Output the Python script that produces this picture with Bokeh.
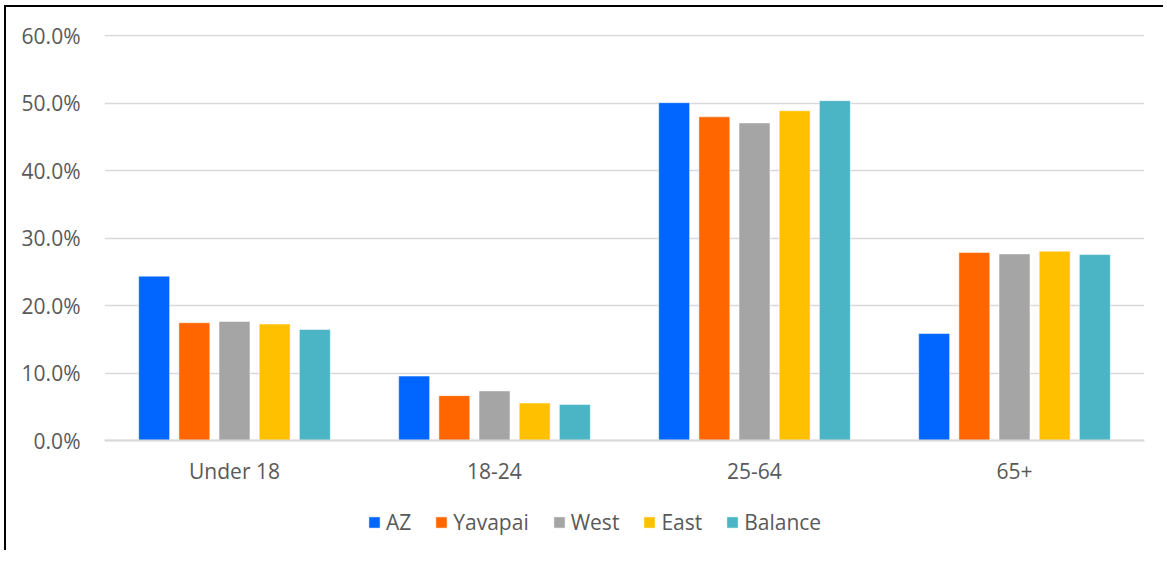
from bokeh.plotting import figure
from bokeh.models import (ColumnDataSource, FactorRange, NumeralTickFormatter,
                          FixedTicker, Legend, LegendItem, Range1d)
from bokeh.transform import dodge
from bokeh.embed import file_html
from bokeh.resources import INLINE

categories = ["Under 18", "18-24", "25-64", "65+"]
series = ["AZ", "Yavapai", "West", "East", "Balance"]
az = [0.244, 0.096, 0.501, 0.159]
yavapai = [0.175, 0.067, 0.480, 0.279]
west = [0.177, 0.074, 0.471, 0.277]
east = [0.173, 0.056, 0.489, 0.281]
balance = [0.165, 0.054, 0.504, 0.276]
colors = ["#0066FF", "#FF6600", "#A5A5A5", "#FFC000", "#4BB4C5"]
y_ticks = [0.0, 0.1, 0.2, 0.3, 0.4, 0.5, 0.6]

source = ColumnDataSource(data=dict(cat=categories, AZ=az, Yavapai=yavapai,
                                    West=west, East=east, Balance=balance))

FONT = "Open Sans"
FS = "21px"
LABEL_COLOR = "#595959"
GRID = "#D9D9D9"

p = figure(x_range=FactorRange(*categories), y_range=Range1d(-0.1624, 0.602),
           width=1159, height=545, output_backend="svg", toolbar_location=None,
           min_border_left=98, min_border_top=27, min_border_right=21,
           min_border_bottom=2)
p.styles = {"border-left": "2px solid black", "border-top": "2px solid black",
            "position": "relative", "left": "4px", "top": "5px"}
p.outline_line_color = None
p.background_fill_color = "white"
p.border_fill_color = "white"

offsets = [-0.309, -0.1545, 0.0, 0.1545, 0.309]
renderers = []
for name, off, col in zip(series, offsets, colors):
    r = p.vbar(x=dodge("cat", off, range=p.x_range), top=name, bottom=0, width=0.119,
               source=source, fill_color=col, line_color="white", line_width=0.5)
    renderers.append(r)

p.yaxis.ticker = FixedTicker(ticks=y_ticks)
p.yaxis.formatter = NumeralTickFormatter(format="0.0%")
p.yaxis.axis_line_color = None
p.yaxis.major_tick_line_color = None
p.yaxis.minor_tick_line_color = None
p.yaxis.major_label_text_font = FONT
p.yaxis.major_label_text_font_size = FS
p.yaxis.major_label_text_color = LABEL_COLOR
p.yaxis.major_label_standoff = 18

p.xaxis.fixed_location = 0
p.xaxis.axis_line_color = GRID
p.xaxis.axis_line_width = 2
p.xaxis.major_tick_line_color = None
p.xaxis.minor_tick_line_color = None
p.xaxis.major_label_text_font = FONT
p.xaxis.major_label_text_font_size = FS
p.xaxis.major_label_text_color = LABEL_COLOR
p.xaxis.major_label_standoff = 10

p.xgrid.grid_line_color = None
p.ygrid.ticker = FixedTicker(ticks=y_ticks)
p.ygrid.grid_line_color = GRID
p.ygrid.grid_line_width = 1.5

legend = Legend(items=[LegendItem(label=n, renderers=[r]) for n, r in zip(series, renderers)],
                orientation="horizontal", location=(263, 14))
legend.label_text_font = FONT
legend.label_text_font_size = FS
legend.label_text_color = LABEL_COLOR
legend.glyph_width = 14
legend.glyph_height = 14
legend.label_standoff = 5
legend.spacing = 23
legend.border_line_color = None
legend.background_fill_alpha = 0
legend.margin = 0
legend.padding = 4
p.add_layout(legend)

open("out.html", "w").write(file_html(p, INLINE))
